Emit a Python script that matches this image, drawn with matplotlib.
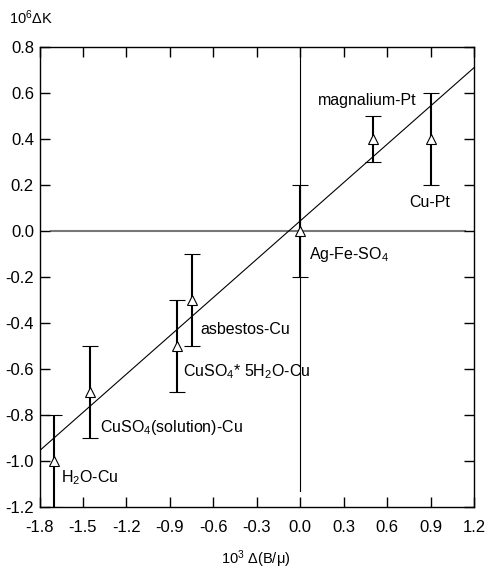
import matplotlib
matplotlib.use("Agg")
import matplotlib.pyplot as plt

plt.rcParams['font.family'] = ['Liberation Sans', 'DejaVu Sans']
plt.rcParams['mathtext.fontset'] = 'custom'
plt.rcParams['mathtext.rm'] = 'Liberation Sans'
plt.rcParams['mathtext.it'] = 'Liberation Sans'
plt.rcParams['mathtext.bf'] = 'Liberation Sans:bold'

# measured points (10^3 d(B/mu), 10^6 dK) with error half-widths
sample_x = [-1.70, -1.45, -0.85, -0.75, 0.0, 0.5, 0.9]
sample_y = [-1.0, -0.7, -0.5, -0.3, 0.0, 0.4, 0.4]
sample_err = [0.2, 0.2, 0.2, 0.2, 0.2, 0.1, 0.2]
sample_names = ["H$_2$O-Cu", "CuSO$_4$(solution)-Cu", "CuSO$_4$* 5H$_2$O-Cu",
                "asbestos-Cu", "Ag-Fe-SO$_4$", "magnalium-Pt", "Cu-Pt"]
label_x = [-1.655, -1.38, -0.81, -0.687, 0.06, 0.12, 0.75]
label_y = [-1.07, -0.855, -0.613, -0.428, -0.10, 0.567, 0.123]

# straight line through the data
fit_x = [-1.8, 1.2]
fit_y = [-0.955, 0.71]

x_ticks = [-1.8, -1.5, -1.2, -0.9, -0.6, -0.3, 0.0, 0.3, 0.6, 0.9, 1.2]
y_ticks = [0.8, 0.6, 0.4, 0.2, 0.0, -0.2, -0.4, -0.6, -0.8, -1.0, -1.2]

fig = plt.figure(figsize=(4.89, 5.73), dpi=100)
ax = fig.add_axes([0.0808, 0.115, 0.8885, 0.803])

ax.plot([-1.72, 1.14], [0, 0], color='#777777', lw=1.5, zorder=1)
ax.plot([0, 0], [-1.13, 0.8], color='black', lw=0.8, zorder=1)
ax.plot(fit_x, fit_y, color='black', lw=0.8, zorder=2)

ax.errorbar(sample_x, sample_y, yerr=sample_err, fmt='^', color='black',
            mfc='white', mec='black', mew=0.8, ms=7, elinewidth=1.5,
            capsize=5.5, capthick=1.5, zorder=3)

for name, tx, ty in zip(sample_names, label_x, label_y):
    ax.text(tx, ty, name, fontsize=11.5, ha='left', va='center')

ax.set_xlim(-1.8, 1.2)
ax.set_ylim(-1.2, 0.8)
ax.set_xticks(x_ticks)
ax.set_xticklabels([f"{v:.1f}" for v in x_ticks])
ax.set_yticks(y_ticks)
ax.set_yticklabels([f"{v:.1f}" for v in y_ticks])
ax.tick_params(direction='in', length=7, width=1, top=True, right=True,
               labelsize=12)
ax.tick_params(axis='x', pad=9)
ax.tick_params(axis='y', pad=4)
for sp in ax.spines.values():
    sp.set_linewidth(1.0)

fig.text(0.018, 0.958, "10$^{6}$ΔK", fontsize=10.5, ha='left', va='baseline')
fig.text(0.522, 0.016, "10$^{3}$ Δ(B/μ)", fontsize=10.5, ha='center', va='baseline')

fig.savefig("out.png", dpi=100)
